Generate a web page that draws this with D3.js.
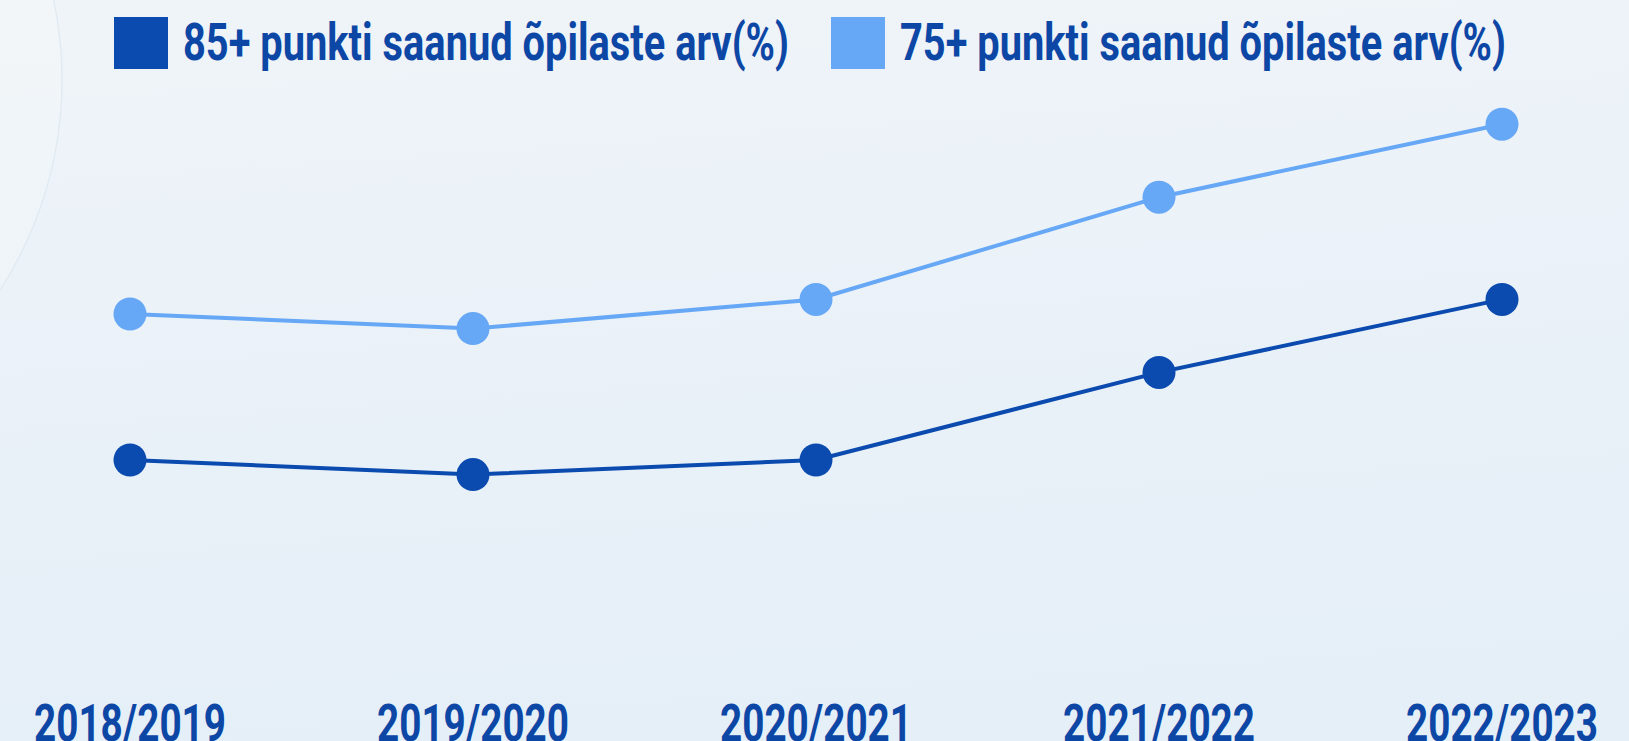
<!DOCTYPE html>
<html>
<head>
<meta charset="utf-8">
<script src="https://cdn.jsdelivr.net/npm/d3@7"></script>
<style>
  html, body { margin: 0; padding: 0; overflow: hidden; }
  svg { display: block; }
  text { font-family: Roboto, "Noto Sans", sans-serif; font-weight: 700; }
</style>
</head>
<body>
<svg width="1629" height="741"></svg>
<script>
// school years on the x axis
const years = ["2018/2019", "2019/2020", "2020/2021", "2021/2022", "2022/2023"];
// share of pupils (%) scoring 85+ and 75+ points
const top85 = [20, 19, 20, 26, 31];
const top75 = [30, 29, 31, 38, 43];
const seriesNames = ["85+ punkti saanud õpilaste arv(%)", "75+ punkti saanud õpilaste arv(%)"];

const svg = d3.select("svg"),
  width = +svg.attr("width"),
  height = +svg.attr("height");

const darkBlue = "#0b4aae",
  lightBlue = "#66a7f6",
  textBlue = "#0d47a6";

// background
const defs = svg.append("defs");
const bg = defs.append("linearGradient").attr("id", "bg")
  .attr("x1", 0).attr("y1", 0).attr("x2", 0.15).attr("y2", 1);
bg.append("stop").attr("offset", "0%").attr("stop-color", "#eff4f8");
bg.append("stop").attr("offset", "100%").attr("stop-color", "#e5eff8");
svg.append("rect").attr("width", width).attr("height", height).attr("fill", "url(#bg)");
// faint decorative circle on the left
svg.append("circle")
  .attr("cx", -325).attr("cy", 80).attr("r", 387)
  .attr("fill", "#ffffff").attr("fill-opacity", 0.2)
  .attr("stroke", "#dfe9f1").attr("stroke-width", 1.2);

// scales
const x = d3.scalePoint().domain(years).range([130, 1502]);
const y = d3.scaleLinear().domain([0, 50]).range([752, 22]);

// legend
const legendItems = [
  { name: seriesNames[0], color: darkBlue, x: 114 },
  { name: seriesNames[1], color: lightBlue, x: 831 }
];
const li = svg.append("g").selectAll("g").data(legendItems).enter().append("g")
  .attr("transform", (d) => "translate(" + d.x + ",0)");
li.append("rect").attr("y", 17).attr("width", 54).attr("height", 52)
  .attr("fill", (d) => d.color);
li.append("text")
  .attr("x", 69).attr("y", 60)
  .attr("font-size", 52)
  .attr("fill", textBlue)
  .attr("textLength", 606)
  .attr("lengthAdjust", "spacingAndGlyphs")
  .text((d) => d.name);

// x labels (they run into the bottom edge in the original)
svg.append("g").selectAll("text").data(years).enter().append("text")
  .attr("x", (d) => x(d))
  .attr("y", 741)
  .attr("text-anchor", "middle")
  .attr("font-size", 51)
  .attr("fill", textBlue)
  .attr("textLength", 192)
  .attr("lengthAdjust", "spacingAndGlyphs")
  .text((d) => d);

// lines and points
const series = [
  { values: top75, color: lightBlue },
  { values: top85, color: darkBlue }
];
const line = d3.line()
  .x((d, i) => x(years[i]))
  .y((d) => y(d));

const sg = svg.selectAll(".series").data(series).enter().append("g").attr("class", "series");
sg.append("path")
  .attr("d", (d) => line(d.values))
  .attr("fill", "none")
  .attr("stroke", (d) => d.color)
  .attr("stroke-width", 4);
sg.each(function (s) {
  d3.select(this).selectAll("circle").data(s.values).enter().append("circle")
    .attr("cx", (d, i) => x(years[i]))
    .attr("cy", (d) => y(d))
    .attr("r", 16.5)
    .attr("fill", s.color);
});
</script>
</body>
</html>
